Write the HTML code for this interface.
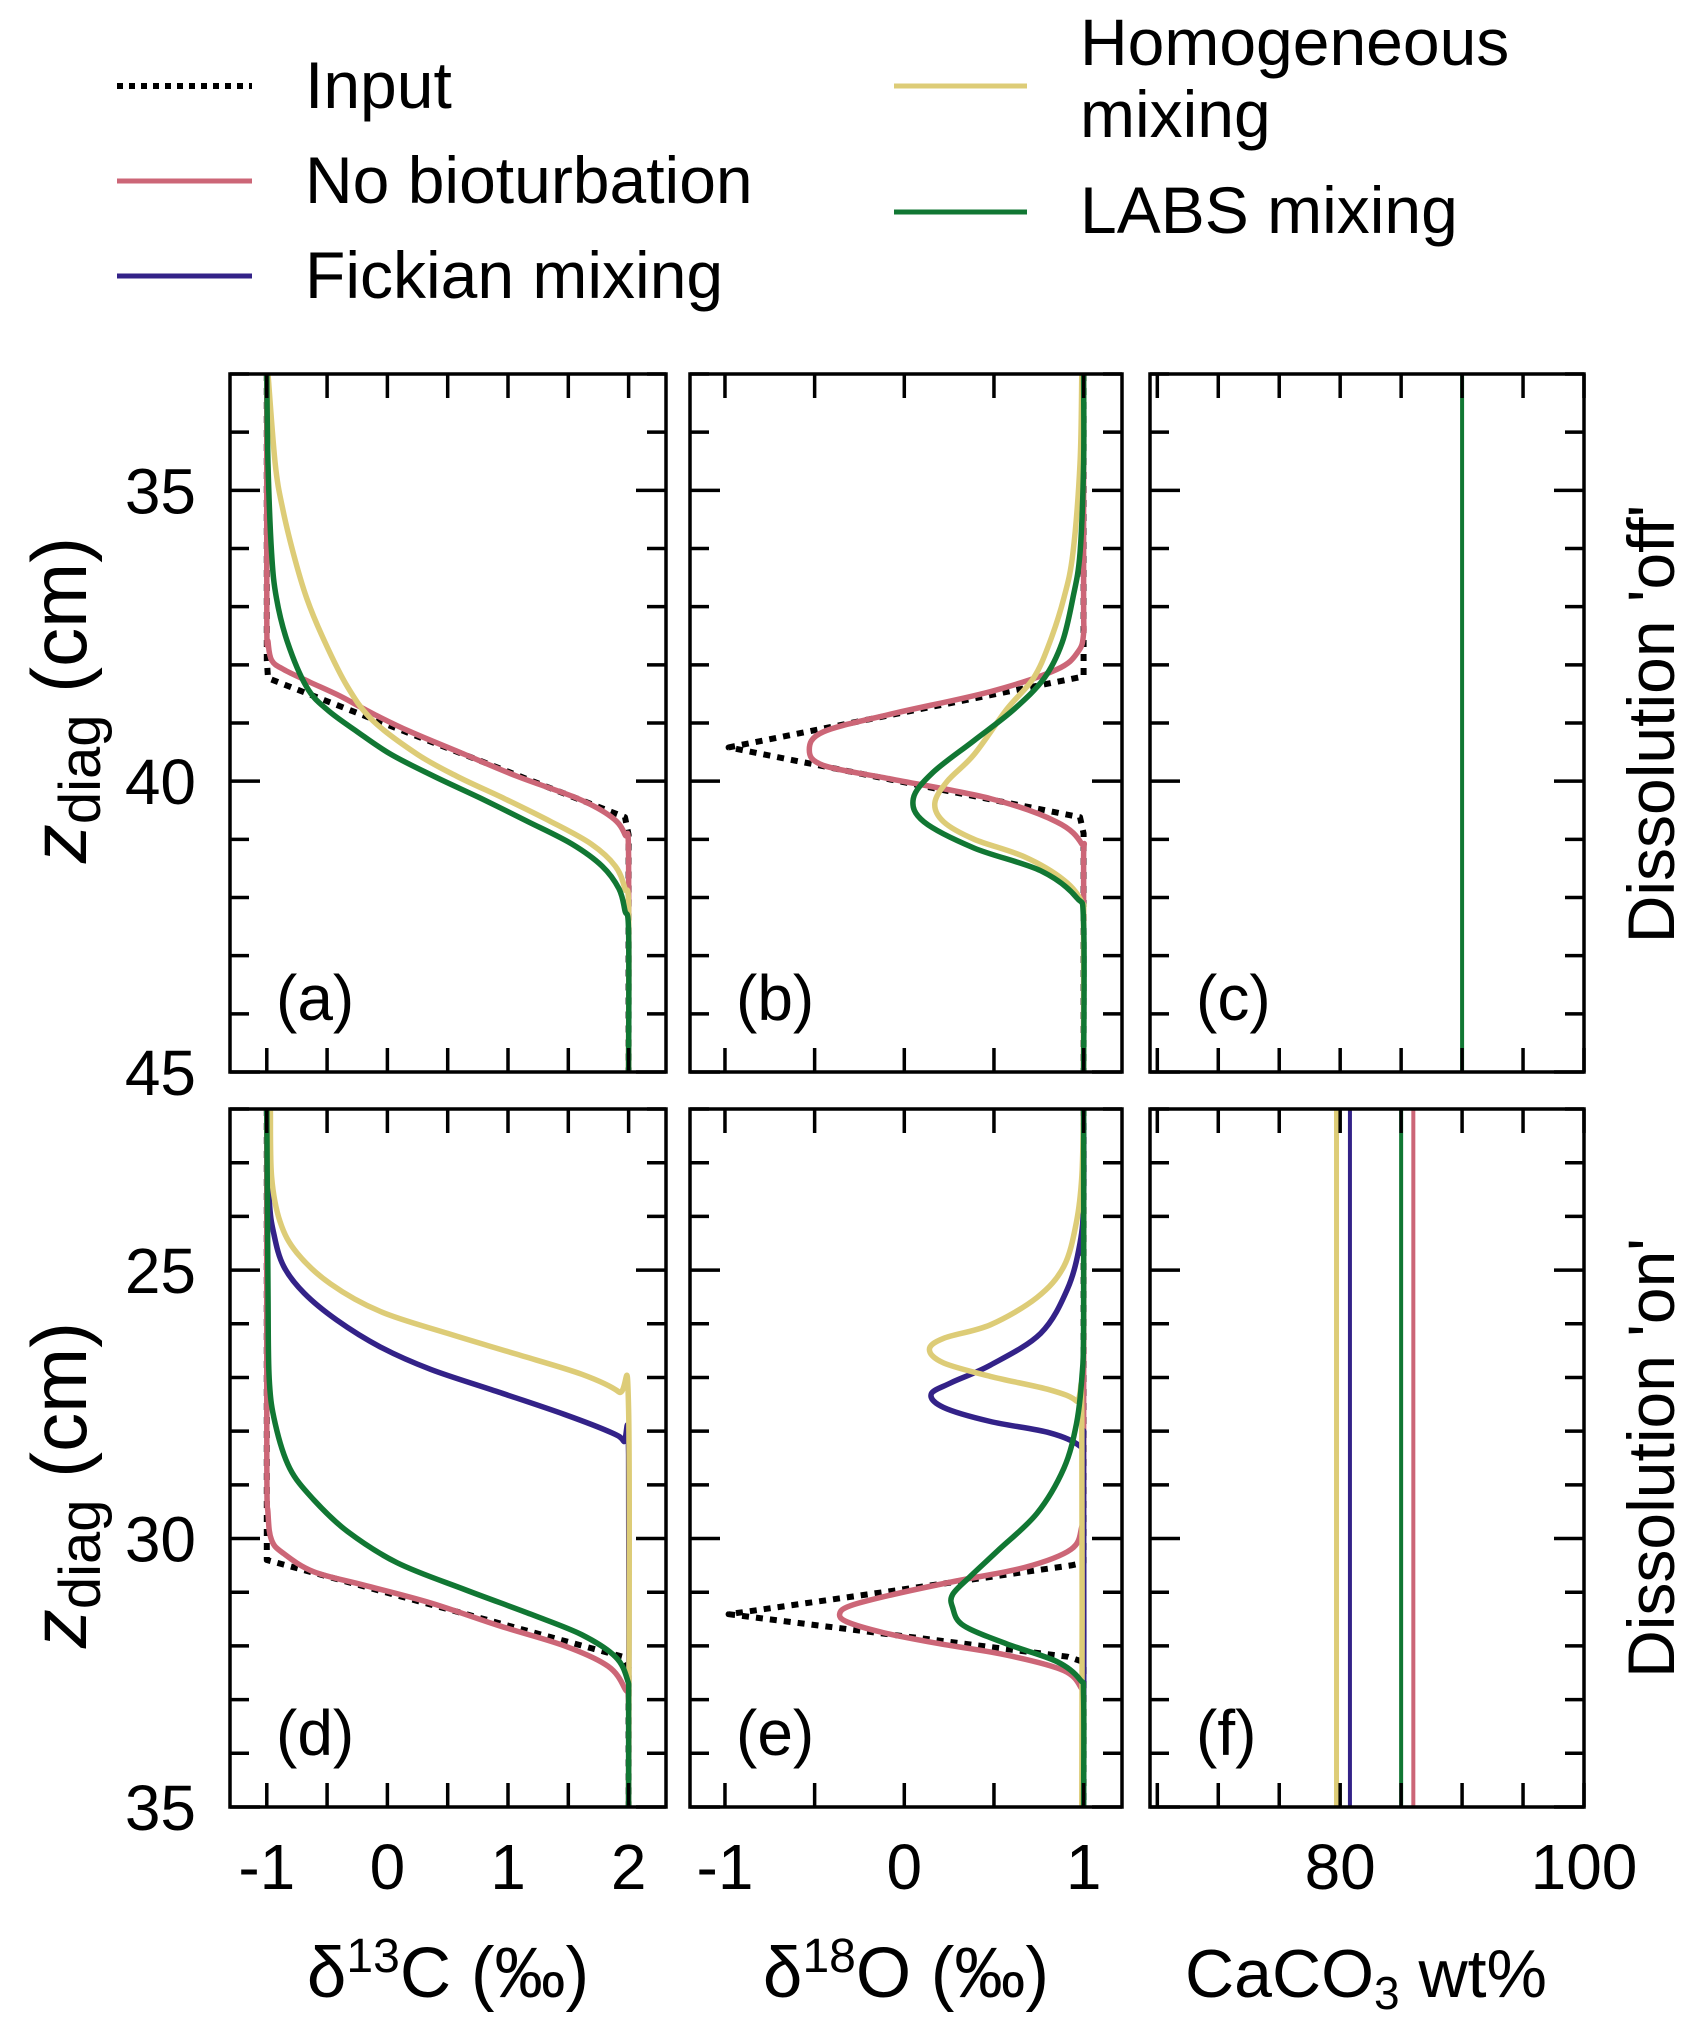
<!DOCTYPE html>
<html><head><meta charset="utf-8"><style>
html,body{margin:0;padding:0;background:#fff;}
svg{display:block;font-family:"Liberation Sans",Arial,sans-serif;}
</style></head><body>
<svg id="chart" width="1694" height="2021" viewBox="0 0 1694 2021" xmlns="http://www.w3.org/2000/svg">
<g id="legend">
  <g>
    <line x1="117" y1="86" x2="252" y2="86" stroke="#000" stroke-width="6" stroke-dasharray="6,6"/>
    <text x="305" y="108" font-size="66">Input</text>
  </g>
  <g>
    <line x1="117" y1="181" x2="252" y2="181" stroke="#cc6677" stroke-width="5"/>
    <text x="305" y="203" font-size="66">No bioturbation</text>
  </g>
  <g>
    <line x1="117" y1="276" x2="252" y2="276" stroke="#332288" stroke-width="5"/>
    <text x="305" y="298" font-size="66">Fickian mixing</text>
  </g>
  <g>
    <line x1="894" y1="86" x2="1027" y2="86" stroke="#ddcc77" stroke-width="5"/>
    <text x="1080" y="65" font-size="66">Homogeneous</text>
    <text x="1080" y="137" font-size="66">mixing</text>
  </g>
  <g>
    <line x1="894" y1="212" x2="1027" y2="212" stroke="#117733" stroke-width="5"/>
    <text x="1080" y="233" font-size="66">LABS mixing</text>
  </g>
</g>
<g id="panels"></g>
</svg>
<script>
// ---- data ----
// panel a: d13C, dissolution off
const zA_in=[33,37.92,38.23,40.62,40.92,45]; const vA_in=[-1,-1,-0.99,1.97,2,2];
const zA_red=[33,37.23,37.6,37.92,38.08,38.3,38.54,38.85,39.15,39.54,39.92,40.3,40.62,40.92,41.3,45]; const vA_red=[-1,-1,-0.99,-0.96,-0.86,-0.64,-0.39,-0.11,0.19,0.64,1.08,1.58,1.86,1.97,2,2];
const zA_blue=[33,34.54,35.3,36.08,36.85,37.6,38.38,38.96,39.54,39.92,40.3,40.7,41.08,41.46,41.85,42.2,45]; const vA_blue=[-1,-0.93,-0.87,-0.78,-0.67,-0.52,-0.33,-0.12,0.25,0.58,0.97,1.37,1.71,1.9,1.98,2,2];
const zA_yel=[33,34.54,35.3,36.08,36.85,37.6,38.38,38.96,39.54,39.92,40.3,40.7,41.08,41.46,41.85,42.2,45]; const vA_yel=[-0.99,-0.93,-0.87,-0.78,-0.67,-0.52,-0.33,-0.12,0.25,0.58,0.97,1.36,1.69,1.89,1.97,2,2];
const zA_grn=[33,34.54,36.08,36.85,37.6,38.38,38.77,39.15,39.54,39.92,40.3,40.7,41.08,41.46,41.85,42.23,42.6,45]; const vA_grn=[-1,-0.99,-0.96,-0.92,-0.83,-0.67,-0.5,-0.25,0.03,0.39,0.78,1.17,1.53,1.78,1.92,1.97,2,2];
// panel b: d18O, dissolution off
const zB_in=[33,37.95,38.2,39.42,40.62,40.9,45]; const vB_in=[1,1,1,-0.98,0.98,1,1];
const zB_red=[33,36.85,37.46,37.77,38.08,38.46,38.85,39.15,39.46,39.73,39.96,40.3,40.7,41.08,41.46,45]; const vB_red=[1,1,1,0.97,0.85,0.48,-0.08,-0.45,-0.53,-0.45,-0.08,0.48,0.85,0.99,1,1];
const zB_blue=[33,34.54,36.08,36.85,37.62,38.23,38.77,39.54,40.0,40.38,40.7,41.0,41.3,41.7,42.08,42.45,45]; const vB_blue=[0.99,0.98,0.94,0.89,0.81,0.72,0.57,0.39,0.24,0.17,0.22,0.39,0.67,0.89,0.99,1,1];
const zB_yel=[33,34.54,36.08,36.85,37.62,38.23,38.77,39.54,40.0,40.38,40.7,41.0,41.3,41.7,42.08,42.45,45]; const vB_yel=[0.99,0.98,0.94,0.89,0.81,0.72,0.57,0.39,0.24,0.17,0.22,0.39,0.67,0.89,0.99,1,1];
const zB_grn=[33,34.54,36.08,36.85,37.62,38.23,38.77,39.3,39.85,40.3,40.7,41.15,41.54,42.0,42.45,45]; const vB_grn=[1,1,0.98,0.94,0.88,0.78,0.61,0.39,0.16,0.05,0.11,0.39,0.76,0.96,1,1];
// panel c: CaCO3 (constant)
const vC=[90];
// panel d: d13C, dissolution on
const zD_in=[22,30.0,30.4,32.2,32.4,35]; const vD_in=[-1,-1,-1,1.95,2,2];
const zD_red=[22,28.5,29.53,30.03,30.28,30.62,30.87,31.2,31.62,32.0,32.38,32.8,33.1,35]; const vD_red=[-1,-1,-0.99,-0.96,-0.86,-0.61,-0.19,0.36,0.92,1.47,1.83,1.97,2,2];
const zD_blue=[22,23.67,24.34,24.93,25.43,25.93,26.43,26.85,27.27,27.69,28.03,28.19,28.44,35]; const vD_blue=[-1,-0.98,-0.94,-0.86,-0.69,-0.42,-0.06,0.36,0.92,1.47,1.86,1.96,2,2];
const zD_yel=[22,23.26,24.1,24.68,25.26,25.77,26.18,26.56,26.94,27.27,27.6,35]; const vD_yel=[-0.97,-0.96,-0.89,-0.75,-0.47,-0.06,0.5,1.06,1.61,1.92,2,2];
const zD_grn=[22,25.35,27.02,27.86,28.69,29.28,29.87,30.45,30.95,31.41,31.79,32.2,32.63,33.0,35]; const vD_grn=[-1,-0.99,-0.98,-0.93,-0.81,-0.61,-0.33,0.08,0.64,1.19,1.61,1.89,1.99,2,2];
// panel e: d18O, dissolution on
const zE_in=[22,30.45,30.5,31.41,32.2,32.3,35]; const vE_in=[1,1,0.93,-0.98,0.91,1,1];
const zE_red=[22,29.3,29.78,30.2,30.54,30.79,31.04,31.25,31.4,31.55,31.75,31.95,32.17,32.46,32.8,33.0,35]; const vE_red=[1,1,0.99,0.93,0.67,0.29,-0.06,-0.3,-0.36,-0.32,-0.12,0.18,0.57,0.89,0.99,1,1];
const zE_blue=[22,23.7,24.5,25.35,26.18,26.77,27.1,27.31,27.56,27.82,28.03,28.28,28.55,35]; const vE_blue=[1,1,0.98,0.91,0.76,0.48,0.26,0.15,0.22,0.48,0.81,0.98,1,1];
const zE_yel=[22,23.26,24.1,24.93,25.51,26.02,26.27,26.48,26.73,26.98,27.23,27.44,27.75,35]; const vE_yel=[1,0.99,0.96,0.89,0.74,0.48,0.22,0.14,0.22,0.48,0.81,0.96,0.99,0.99];
const zE_grn=[22,26.0,27.02,27.86,28.69,29.53,30.2,30.7,31.04,31.29,31.62,31.96,32.29,32.63,32.96,35]; const vE_grn=[1,1,0.99,0.96,0.89,0.74,0.53,0.37,0.27,0.27,0.33,0.57,0.85,0.98,1,1];
// panel f: CaCO3 values per series
const vF_yel=[79.7]; const vF_blue=[80.8]; const vF_grn=[85]; const vF_red=[86];
const yTicksTop=[35,40,45]; const yTicksBot=[25,30,35];
const xTicksC13=[-1,0,1,2]; const xTicksO18=[-1,0,1]; const xTicksCa=[80,100];

// ---- layout ----
const NS="http://www.w3.org/2000/svg";
const root=document.getElementById('panels');
const cols=[{x0:230,x1:666,d0:-1.305,d1:2.31,minor:0.5,labels:xTicksC13},
            {x0:690,x1:1122,d0:-1.195,d1:1.214,minor:0.5,labels:xTicksO18},
            {x0:1150,x1:1584,d0:64.4,d1:100,minor:5,labels:xTicksCa}];
const rows=[{y0:374,y1:1072,d0:33,d1:45,labels:yTicksTop},
            {y0:1109,y1:1807,d0:22,d1:35,labels:yTicksBot}];
const C={red:"#cc6677",blue:"#332288",yel:"#ddcc77",grn:"#117733"};
function mk(tag,attrs,parent){const e=document.createElementNS(NS,tag);for(const k in attrs)e.setAttribute(k,attrs[k]);(parent||root).appendChild(e);return e;}
function sx(c,v){return c.x0+(v-c.d0)/(c.d1-c.d0)*(c.x1-c.x0);}
function sy(r,z){return r.y0+(z-r.d0)/(r.d1-r.d0)*(r.y1-r.y0);}
function pathSmooth(pts){
  let d="M"+pts[0][0].toFixed(1)+","+pts[0][1].toFixed(1);
  for(let i=0;i<pts.length-1;i++){
    const p0=pts[Math.max(0,i-1)],p1=pts[i],p2=pts[i+1],p3=pts[Math.min(pts.length-1,i+2)];
    const t=1/6;
    const c1=[p1[0]+(p2[0]-p0[0])*t,p1[1]+(p2[1]-p0[1])*t];
    const c2=[p2[0]-(p3[0]-p1[0])*t,p2[1]-(p3[1]-p1[1])*t];
    d+=" C"+c1[0].toFixed(1)+","+c1[1].toFixed(1)+" "+c2[0].toFixed(1)+","+c2[1].toFixed(1)+" "+p2[0].toFixed(1)+","+p2[1].toFixed(1);
  }
  return d;
}
function pathLinear(pts){return "M"+pts.map(p=>p[0].toFixed(1)+","+p[1].toFixed(1)).join(" L");}
function drawSeries(g,c,r,zs,vs,color,w,name,dotted){
  const pts=zs.map((z,i)=>[sx(c,vs[i]),sy(r,z)]);
  const p=mk('path',{d:dotted?pathLinear(pts):pathSmooth(pts),fill:'none',stroke:color,'stroke-width':w,'stroke-dasharray':dotted?'7,7':'none','stroke-linejoin':'round'},g);
  
  
}
function drawVLine(g,c,r,v,color,w,name){
  const l=mk('rect',{x:sx(c,v)-w/2,y:r.y0,width:w,height:r.y1-r.y0,fill:color},g);
  
  
}
const letters=['a','b','c','d','e','f'];
rows.forEach((r,ri)=>{
  cols.forEach((c,ci)=>{
    const g=mk('g',{});
    
    
    const data=mk('g',{},g);
    
    
    const key=['A','B','C','D','E','F'][ri*3+ci];
    if(key==='C'){drawVLine(data,c,r,vC[0],C.grn,4,'caco3-line');}
    else if(key==='F'){
      drawVLine(data,c,r,vF_yel[0],C.yel,5,'caco3-homogeneous');
      drawVLine(data,c,r,vF_blue[0],C.blue,4,'caco3-fickian');
      drawVLine(data,c,r,vF_grn[0],C.grn,4,'caco3-labs');
      drawVLine(data,c,r,vF_red[0],C.red,4,'caco3-no-bioturbation');
    } else {
      const D={A:[zA_in,vA_in,zA_red,vA_red,zA_blue,vA_blue,zA_yel,vA_yel,zA_grn,vA_grn],
               B:[zB_in,vB_in,zB_red,vB_red,zB_blue,vB_blue,zB_yel,vB_yel,zB_grn,vB_grn],
               D:[zD_in,vD_in,zD_red,vD_red,zD_blue,vD_blue,zD_yel,vD_yel,zD_grn,vD_grn],
               E:[zE_in,vE_in,zE_red,vE_red,zE_blue,vE_blue,zE_yel,vE_yel,zE_grn,vE_grn]}[key];
      drawSeries(data,c,r,D[0],D[1],'#000',6,'input-line',true);
      drawSeries(data,c,r,D[2],D[3],C.red,5.5,'no-bioturbation-line',false);
      drawSeries(data,c,r,D[4],D[5],C.blue,ri===0?2:5.5,'fickian-line',false);
      drawSeries(data,c,r,D[6],D[7],C.yel,5.5,'homogeneous-line',false);
      drawSeries(data,c,r,D[8],D[9],C.grn,5.5,'labs-line',false);
    }
    const tg=mk('g',{stroke:'#000','stroke-width':3.5},g);
    
    
    for(let z=Math.ceil(r.d0);z<=r.d1;z++){
      const y=sy(r,z); const L=(z%5===0)?30:19;
      mk('line',{x1:c.x0,x2:c.x0+L,y1:y,y2:y},tg);
      mk('line',{x1:c.x1-L,x2:c.x1,y1:y,y2:y},tg);
    }
    for(let v=Math.ceil(c.d0/c.minor)*c.minor;v<=c.d1+1e-9;v+=c.minor){
      const x=sx(c,v);
      mk('line',{x1:x,x2:x,y1:r.y0,y2:r.y0+24},tg);
      mk('line',{x1:x,x2:x,y1:r.y1-24,y2:r.y1},tg);
    }
    const fr=mk('rect',{x:c.x0,y:r.y0,width:c.x1-c.x0,height:r.y1-r.y0,fill:'none',stroke:'#000','stroke-width':3.5},g);
    
    
    const lt=mk('text',{x:c.x0+46,y:r.y1-52,'font-size':64},g);
    lt.textContent='('+letters[ri*3+ci]+')';
    
    
    if(ci===0){
      r.labels.forEach(z=>{
        const t=mk('text',{x:c.x0-34,y:sy(r,z)+23,'font-size':64,'text-anchor':'end'},root);
        t.textContent=z;
        
        
      });
    }
    if(ri===1){
      c.labels.forEach(v=>{
        const t=mk('text',{x:sx(c,v),y:1889,'font-size':64,'text-anchor':'middle'},root);
        t.textContent=(v<0?'-'+Math.abs(v):v);
        
        
      });
    }
  });
});
</script>
<script>
(function(){
const NS="http://www.w3.org/2000/svg";const svg=document.getElementById('chart');
function t(x,y,size,html,name,rot){const e=document.createElementNS(NS,'text');e.setAttribute('x',x);e.setAttribute('y',y);e.setAttribute('font-size',size);e.setAttribute('text-anchor','middle');if(rot)e.setAttribute('transform','rotate(-90 '+x+' '+y+')');e.innerHTML=html;svg.appendChild(e);

}
t(448,1997,71,'δ<tspan font-size="48" dy="-25">13</tspan><tspan dy="25">C (‰)</tspan>','x-axis-title-d13c');
t(906,1997,71,'δ<tspan font-size="48" dy="-25">18</tspan><tspan dy="25">O (‰)</tspan>','x-axis-title-d18o');
t(1366,1997,68,'CaCO<tspan font-size="46" dy="12">3</tspan><tspan dy="-12"> wt%</tspan>','x-axis-title-caco3');
t(86,700,78,'<tspan font-style="italic">z</tspan><tspan font-size="58" dy="14">diag</tspan><tspan dy="-14"> (cm)</tspan>','y-axis-title-top',true);
t(86,1485,78,'<tspan font-style="italic">z</tspan><tspan font-size="58" dy="14">diag</tspan><tspan dy="-14"> (cm)</tspan>','y-axis-title-bottom',true);
t(1674,724,66,"Dissolution 'off'",'row-label-off',true);
t(1674,1458,66,"Dissolution 'on'",'row-label-on',true);
})();
</script>
</body></html>
